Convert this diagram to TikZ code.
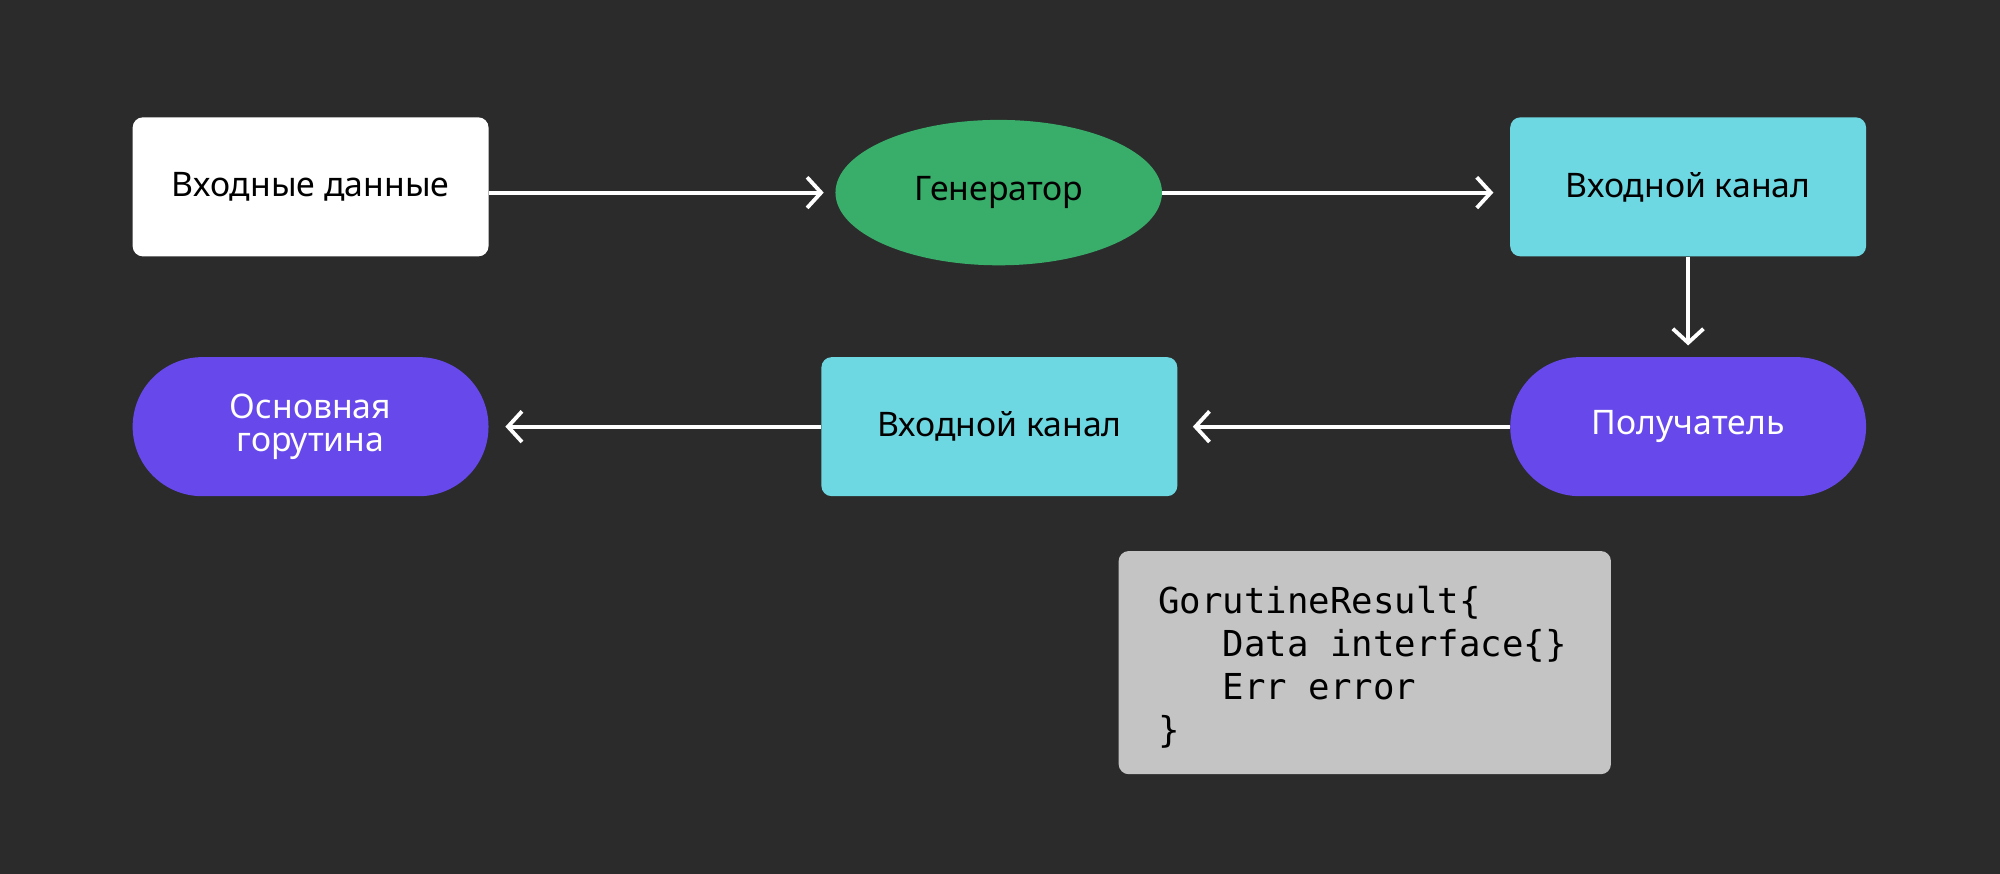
\documentclass[tikz,border=0pt]{standalone}
\usepackage{fontspec}
\setmainfont{Noto Sans}
\newfontfamily\codefont{DejaVu Sans Mono}
\usetikzlibrary{shapes.geometric,arrows.meta}
\definecolor{bgc}{HTML}{2B2B2B}
\definecolor{greenc}{HTML}{38AE6A}
\definecolor{cyanc}{HTML}{6ED8E2}
\definecolor{purplec}{HTML}{6748EA}
\definecolor{grayc}{HTML}{C4C4C4}
\tikzset{
  box/.style={rectangle, rounded corners=8pt, minimum width=279pt, minimum height=109pt, inner sep=0pt, font=\fontsize{26.5}{26}\selectfont, align=center},
  whitebox/.style={box, fill=white, text=black},
  chanbox/.style={box, fill=cyanc, text=black},
  stadium/.style={box, rounded corners=54.5pt, fill=purplec, text=white},
  genell/.style={ellipse, fill=greenc, minimum width=256pt, minimum height=114pt, inner sep=0pt, font=\fontsize{26.5}{26}\selectfont, text=black},
  codebox/.style={rectangle, rounded corners=8pt, fill=grayc, minimum width=386pt, minimum height=175pt, inner sep=0pt},
  codeline/.style={anchor=base west, inner sep=0pt, font=\codefont\fontsize{28}{34}\selectfont, text=black},
  arr/.style={draw=white, line width=3pt, -{Straight Barb[length=11pt,width=24pt,line width=3pt]}}
}
\begin{document}
\begin{tikzpicture}[x=1pt,y=-1pt]
\fill[bgc] (0,0) rectangle (1568,685.2);
\useasboundingbox (0,0) rectangle (1568,685.2);
\node[whitebox] (in) at (243.5,146.5) {Входные данные};
\node[genell] (gen) at (783,151) {Генератор};
\node[chanbox] (ch1) at (1323.5,146.5) {Входной канал};
\node[stadium] (rcv) at (1323.5,334.5) {Получатель};
\node[chanbox] (ch2) at (783.5,334.5) {Входной канал};
\node[stadium] (main) at (243.5,334.5) {Основная\\горутина};
\node[codebox] (code) at (1070,519.5) {};
\node[codeline] (l1) at (908,481) {GorutineResult\{};
\node[codeline] (l2) at (908,514.7) {\ \ \ Data interface\{\}};
\node[codeline] (l3) at (908,548.4) {\ \ \ Err error};
\node[codeline] (l4) at (908,582.1) {\}};
\draw[arr] (in.east |- gen.west) -- ([xshift=-9pt]gen.west);
\draw[arr] (gen.east) -- ([xshift=-13pt]ch1.west |- gen.east);
\draw[arr] (ch1.south) -- ([yshift=9pt]rcv.north);
\draw[arr] (rcv.west) -- ([xshift=12pt]ch2.east);
\draw[arr] (ch2.west) -- ([xshift=13pt]main.east);
\end{tikzpicture}
\end{document}
